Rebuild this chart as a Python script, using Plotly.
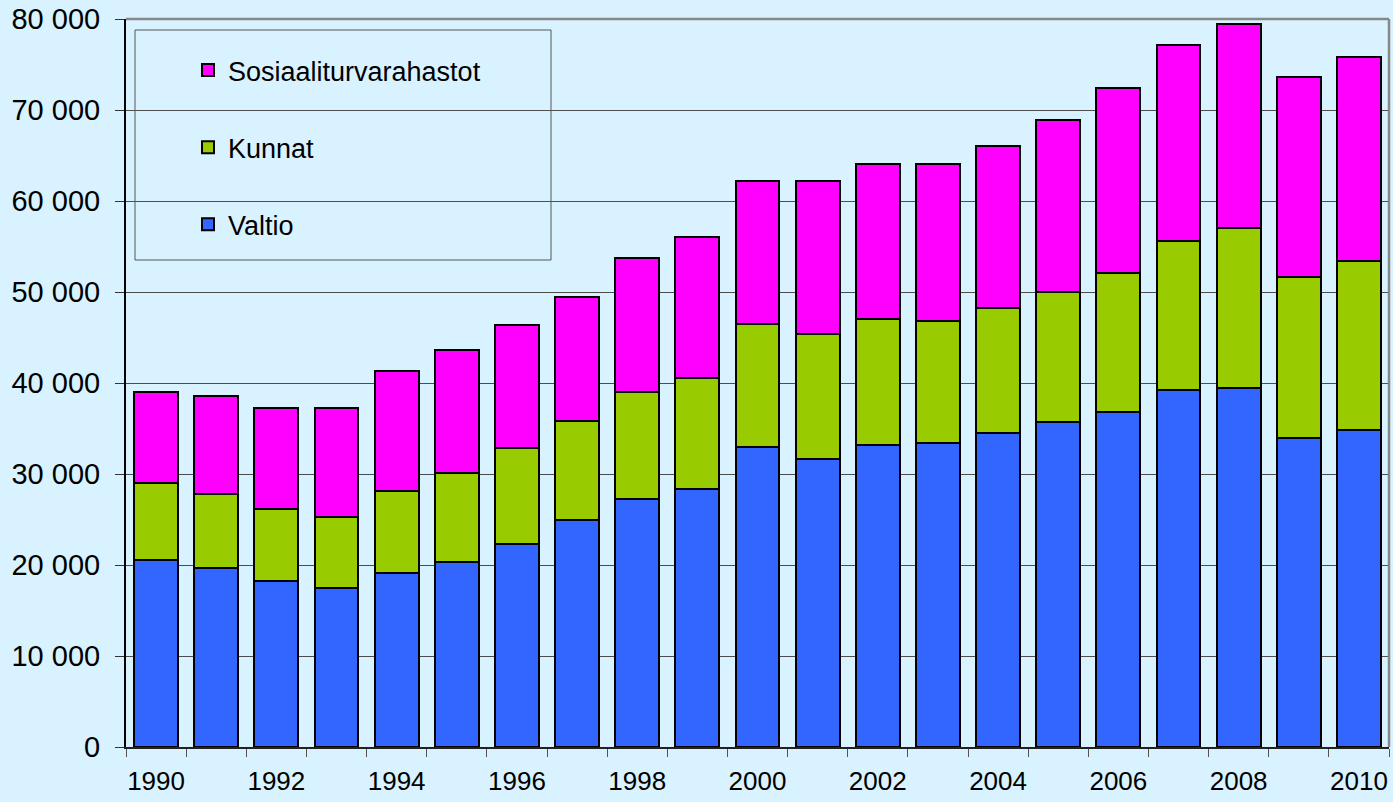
import plotly.graph_objects as go

years = list(range(1990, 2011))
valtio = [20600, 19700, 18200, 17500, 19100, 20300, 22300, 25000, 27300, 28300,
          33000, 31600, 33200, 33400, 34500, 35700, 36800, 39200, 39500, 34000, 34800]
kunnat = [8400, 8100, 7900, 7800, 9000, 9800, 10600, 10800, 11700, 12200,
          13500, 13800, 13800, 13400, 13700, 14300, 15300, 16400, 17500, 17600, 18600]
sosiaali = [10000, 10800, 11100, 11900, 13200, 13500, 13500, 13700, 14700, 15500,
            15700, 16800, 17100, 17300, 17800, 18900, 20300, 21500, 22400, 22000, 22400]
x_labels = [str(y) for y in range(1990, 2011, 2)]
y_ticks = list(range(0, 80001, 10000))

BG = "#D9F2FF"
FONT = "Liberation Sans, Arial, sans-serif"

fig = go.Figure()
series = [("Valtio", valtio, "#3366FF", 3),
          ("Kunnat", kunnat, "#99CC00", 2),
          ("Sosiaaliturvarahastot", sosiaali, "#FF00FF", 1)]
for name, vals, col, rank in series:
    fig.add_trace(go.Bar(
        x=years, y=vals, name=name, legendgroup=name, legendrank=rank,
        marker=dict(color=col, line=dict(color="black", width=2)),
        width=0.73,
    ))

L, R, T, B = 126, 4, 19, 55
W, H = 1393, 802
pw = W - L - R
ph = H - T - B

fig.update_layout(
    width=W, height=H,
    barmode="stack",
    paper_bgcolor=BG, plot_bgcolor=BG,
    margin=dict(l=L, r=R, t=T, b=B, pad=0),
    separators=", ",
    font=dict(family=FONT, color="black", size=26),
    showlegend=True,
    legend=dict(
        x=(228 - 40 - L) / pw, y=(H - B - 46) / ph,
        xanchor="left", yanchor="top",
        bgcolor="rgba(0,0,0,0)", borderwidth=0,
        font=dict(family=FONT, size=27, color="black"),
        traceorder="grouped",
        tracegroupgap=39,
    ),
    xaxis=dict(
        range=[1989.5, 2010.5],
        tickmode="array", tickvals=[int(v) for v in x_labels], ticktext=x_labels,
        ticks="", showgrid=False, zeroline=False,
        showline=True, linecolor="#222222", linewidth=1.5,
        tickfont=dict(family=FONT, size=26, color="black"),
        ticklabelstandoff=10,
        minor=dict(ticks="outside", tick0=1989.5, dtick=1, ticklen=8,
                   tickcolor="#555555", tickwidth=1, showgrid=False),
        fixedrange=True,
    ),
    yaxis=dict(
        range=[0, 80000], tickvals=y_ticks, tickformat=",d",
        ticks="outside", ticklen=9, tickcolor="#333333", tickwidth=1,
        showgrid=True, gridcolor="#4D4D4D", gridwidth=1,
        zeroline=False,
        showline=True, linecolor="black", linewidth=2,
        tickfont=dict(family=FONT, size=29, color="black"),
        ticklabelstandoff=9,
        fixedrange=True,
    ),
    shapes=[
        dict(type="rect", xref="paper", yref="paper",
             x0=(135 - L) / pw, x1=(551 - L) / pw,
             y0=(H - B - 260) / ph, y1=(H - B - 30) / ph,
             line=dict(color="#555555", width=1), fillcolor="rgba(0,0,0,0)",
             layer="above"),
        dict(type="line", xref="paper", yref="paper", x0=0, x1=1, y0=1, y1=1,
             line=dict(color="#888888", width=2.5)),
        dict(type="line", xref="paper", yref="paper", x0=1, x1=1, y0=0, y1=1,
             line=dict(color="#888888", width=2.5)),
    ],
)

fig.write_html(
    "out.html",
    config={"displayModeBar": False},
    post_script="document.body.style.margin='0';document.body.style.background='" + BG + "';",
)
